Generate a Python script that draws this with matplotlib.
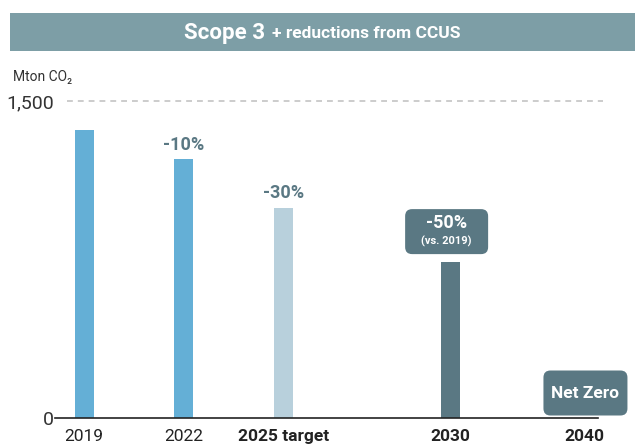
import matplotlib.pyplot as plt
import matplotlib.transforms as mtransforms
from matplotlib.patches import FancyBboxPatch, Rectangle

plt.rcParams['font.family'] = ['Roboto', 'DejaVu Sans']

# data
labels = ['2019', '2022', '2025 target', '2030', '2040']
x_pos = [0, 3, 6, 11, 15]          # years after 2019 (axis is compressed after 2030)
values = [1365, 1225, 995, 740, 0]
bold_labels = [False, False, True, True, True]
colors = ['#64afd6', '#64afd6', '#b8d0dc', '#5a7883', '#5a7883']
reductions = {1: '-10%', 2: '-30%'}

W, H = 635, 448
fig = plt.figure(figsize=(W / 100, H / 100), dpi=100)

# header band
fig.patches.append(Rectangle((10 / W, 1 - 51 / H), 1, 38 / H, transform=fig.transFigure,
                             facecolor='#7d9ea6', edgecolor='none'))
fig.text(265 / W, 1 - 33 / H, 'Scope 3', color='white', fontsize=16, fontweight='bold',
         ha='right', va='center')
fig.text(272 / W, 1 - 34 / H, '+ reductions from CCUS', color='white', fontsize=12.5,
         fontweight='bold', ha='left', va='center')

# axes: x=55..605 px, y: 0 at 418 px, 1500 at 101 px
ax = fig.add_axes([55 / W, 1 - 418 / H, 550 / W, 317 / H])
px = 1 / 33.33
ax.set_xlim(-29 * px, 521 * px)
ax.set_ylim(0, 1500)

ax.bar(x_pos, values, width=19 * px, color=colors, zorder=2)

ax.axhline(1500, xmin=12 / 550, xmax=548 / 550, color='#c4c4c4', lw=1.2,
           ls=(0, (3.5, 3)), clip_on=False)

for s in ['top', 'right', 'left']:
    ax.spines[s].set_visible(False)
ax.spines['bottom'].set_bounds(-29 * px, 514 * px)
ax.spines['bottom'].set_color('#222222')
ax.spines['bottom'].set_linewidth(1.2)

ax.set_yticks([0, 1500])
ax.set_yticklabels(['0', '1,500'], fontsize=14, color='#333333')
ax.tick_params(axis='y', length=0, pad=1)

ax.set_xticks(x_pos)
ax.set_xticklabels(labels, fontsize=12.5, color='#222222')
for t, b in zip(ax.get_xticklabels(), bold_labels):
    if b:
        t.set_fontweight('bold')
ax.tick_params(axis='x', length=0, pad=8)

fig.text(13 / W, 1 - 77 / H, 'Mton CO₂', fontsize=10, color='#333333', va='center')

# reduction labels
for i, txt in reductions.items():
    ax.annotate(txt, (x_pos[i], values[i]), xytext=(0, 10.5), textcoords='offset points',
                ha='center', va='center', fontsize=13, fontweight='bold', color='#5a7883')


def box_at(x, y, dx, dy, w, h):
    # rounded box w x h px, centre offset (dx, dy) px from data point
    tr = fig.dpi_scale_trans + mtransforms.ScaledTranslation(x, y, ax.transData)
    p = FancyBboxPatch(((dx - w / 2) / 100, (dy - h / 2) / 100), w / 100, h / 100,
                       boxstyle='round,pad=0,rounding_size=0.07', transform=tr,
                       facecolor='#5a7883', edgecolor='none', clip_on=False, zorder=3)
    ax.add_patch(p)
    return tr


# -50% box
tr = box_at(x_pos[3], values[3], -4, 30, 83, 45)
ax.text(-0.04, 0.385, '-50%', transform=tr, ha='center', va='center', color='white',
        fontsize=13, fontweight='bold', zorder=4)
ax.text(-0.04, 0.205, '(vs. 2019)', transform=tr, ha='center', va='center', color='white',
        fontsize=8, fontweight='bold', zorder=4)

# Net Zero box
tr = box_at(x_pos[4], values[4], 1.5, 25, 84, 45)
ax.text(0.015, 0.25, 'Net Zero', transform=tr, ha='center', va='center', color='white',
        fontsize=12.5, fontweight='bold', zorder=4)

fig.savefig('out.png', dpi=100)
